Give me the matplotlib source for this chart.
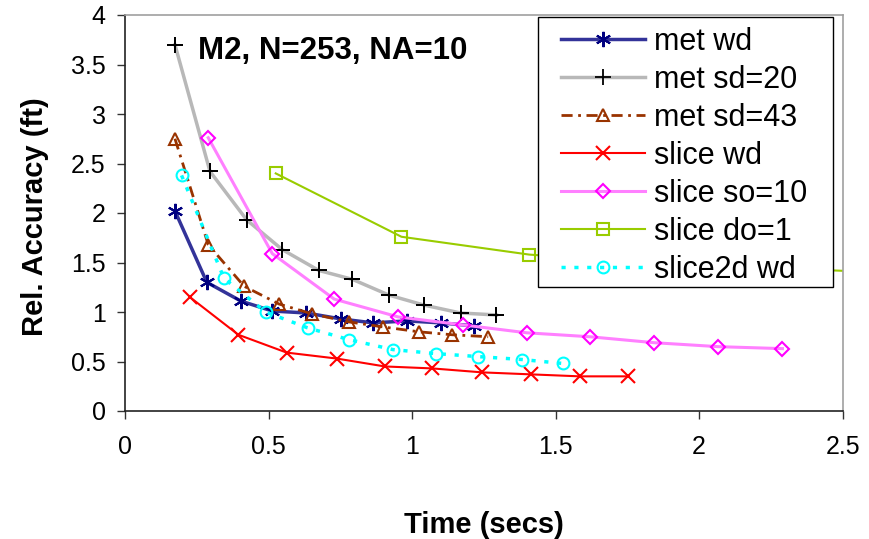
import matplotlib
matplotlib.use("Agg")
import matplotlib.pyplot as plt
from matplotlib.patches import Rectangle

plt.rcParams['font.family'] = ['Liberation Sans', 'DejaVu Sans']

met_wd_x = [0.174, 0.285, 0.404, 0.513, 0.632, 0.752, 0.864, 0.982, 1.101, 1.216]
met_wd_y = [2.02, 1.30, 1.11, 1.01, 0.99, 0.93, 0.89, 0.91, 0.89, 0.86]

met_sd20_x = [0.174, 0.296, 0.424, 0.548, 0.675, 0.792, 0.920, 1.041, 1.169, 1.294]
met_sd20_y = [3.70, 2.42, 1.93, 1.63, 1.42, 1.33, 1.17, 1.07, 0.99, 0.97]

met_sd43_x = [0.174, 0.290, 0.415, 0.537, 0.653, 0.780, 0.897, 1.024, 1.140, 1.265]
met_sd43_y = [2.75, 1.68, 1.26, 1.08, 0.98, 0.90, 0.85, 0.80, 0.77, 0.75]

slice_wd_x = [0.226, 0.395, 0.563, 0.737, 0.905, 1.071, 1.245, 1.414, 1.584, 1.753]
slice_wd_y = [1.15, 0.77, 0.59, 0.53, 0.45, 0.43, 0.39, 0.37, 0.35, 0.35]

slice_so10_x = [0.290, 0.513, 0.729, 0.952, 1.176, 1.399, 1.619, 1.843, 2.066, 2.290]
slice_so10_y = [2.76, 1.59, 1.13, 0.95, 0.87, 0.79, 0.75, 0.69, 0.65, 0.63]

slice_do1_x = [0.525, 0.963, 1.408, 1.850, 2.290, 2.730]
slice_do1_y = [2.40, 1.76, 1.58, 1.49, 1.44, 1.39]

slice2d_wd_x = [0.197, 0.345, 0.490, 0.636, 0.781, 0.934, 1.082, 1.228, 1.383, 1.526]
slice2d_wd_y = [2.38, 1.34, 1.00, 0.84, 0.72, 0.62, 0.58, 0.55, 0.52, 0.48]

x_ticks = [0, 0.5, 1, 1.5, 2, 2.5]
x_tick_labels = ['0', '0.5', '1', '1.5', '2', '2.5']
y_ticks = [0, 0.5, 1, 1.5, 2, 2.5, 3, 3.5, 4]
y_tick_labels = ['0', '0.5', '1', '1.5', '2', '2.5', '3', '3.5', '4']

W, H = 869, 539
fig = plt.figure(figsize=(W/100, H/100), dpi=100)
ax = fig.add_axes([125/W, 1-411/H, (842.7-125)/W, (411-15)/H])

ms = 9
ax.plot(met_wd_x, met_wd_y, color='#333399', lw=2.5, marker=(6, 2, 0), ms=11,
        mec='#000080', mew=1.5, label='met wd')
ax.plot(met_sd20_x, met_sd20_y, color='#b8b8b8', lw=2.5, marker='+', ms=11,
        mec='black', mew=1.3, label='met sd=20')
ax.plot(met_sd20_x, met_sd20_y, ls='none', marker='+', ms=11, mec='black', mew=1.3)
ax.plot(met_sd43_x, met_sd43_y, color='#993300', lw=2, ls=(0, (4, 2, 1, 2)),
        marker='^', ms=ms, mfc='none', mec='#993300', mew=1.5, label='met sd=43')
ax.plot(slice_wd_x, slice_wd_y, color='#ff0000', lw=1.5, marker='x', ms=10,
        mec='#ff0000', mew=1.5, label='slice wd')
ax.plot(slice_so10_x, slice_so10_y, color='#ff80ff', lw=2.2, marker='D', ms=7.5,
        mfc='none', mec='#ff00ff', mew=1.5, label='slice so=10')
ax.plot(slice_do1_x, slice_do1_y, color='#99cc00', lw=1.5, marker='s', ms=8,
        mfc='none', mec='#99cc00', mew=1.5, label='slice do=1')
ax.plot(slice2d_wd_x, slice2d_wd_y, color='#00ffff', lw=2.5, ls=(0, (1.2, 2.5)),
        marker='o', ms=8.5, mfc='none', mec='#00ffff', mew=1.5, label='slice2d wd')

ax.set_xlim(0, 2.5)
ax.set_ylim(0, 4)
ax.set_xticks(x_ticks)
ax.set_xticklabels(x_tick_labels)
ax.set_yticks(y_ticks)
ax.set_yticklabels(y_tick_labels)
ax.tick_params(axis='both', direction='out', length=6, width=1, color='#333333',
               labelsize=18)
ax.tick_params(axis='x', pad=11)
ax.tick_params(axis='y', pad=8)

for s in ['left', 'bottom']:
    ax.spines[s].set_color('#222222')
    ax.spines[s].set_linewidth(1.2)
for s in ['top', 'right']:
    ax.spines[s].set_color('#a0a0a0')
    ax.spines[s].set_linewidth(1.2)

ax.set_xlabel('Time (secs)', fontsize=21, fontweight='bold')
ax.xaxis.set_label_coords(0.5, -0.252)
ax.set_ylabel('Rel. Accuracy (ft)', fontsize=21, fontweight='bold')
ax.yaxis.set_label_coords(-0.106, 0.49)

ax.text(0.254, 3.556, 'M2, N=253, NA=10', fontsize=22.5, fontweight='bold',
        va='baseline', ha='left')

# legend box
box = Rectangle((538/W, 1-287/H), (833-538)/W, (287-17)/H, transform=fig.transFigure,
                facecolor='white', edgecolor='black', lw=1.0, zorder=4)
fig.patches.append(box)

handles, labels = ax.get_legend_handles_labels()
leg = fig.legend(handles, labels, loc='upper left',
                 bbox_to_anchor=(561/W, 1-27/H), bbox_transform=fig.transFigure,
                 fontsize=22, frameon=False, borderaxespad=0, borderpad=0,
                 labelspacing=0.26, handlelength=2.75, handletextpad=0.3)
leg.set_zorder(5)

fig.savefig('out.png', dpi=100)
